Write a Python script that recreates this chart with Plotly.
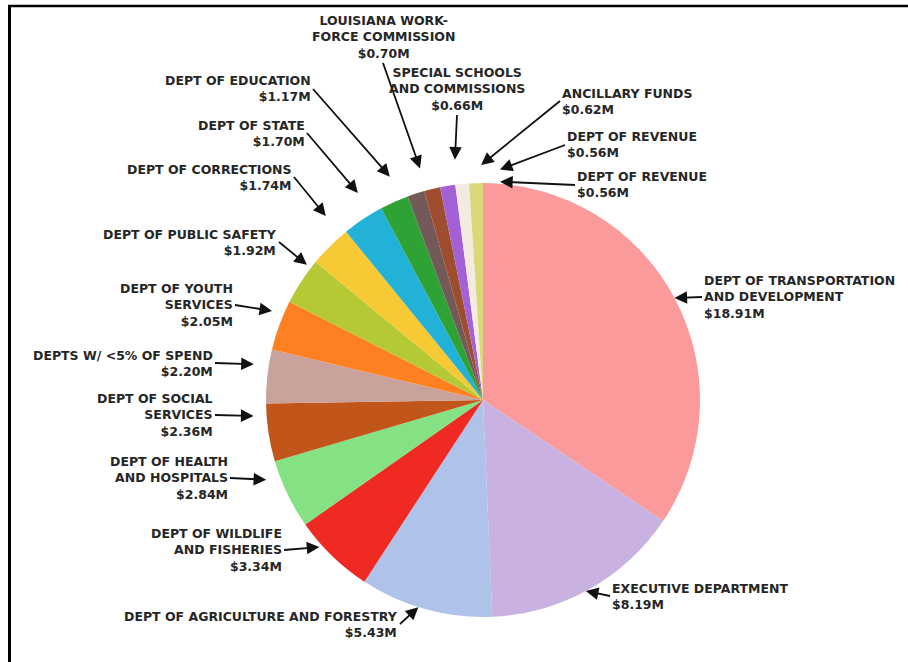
import math
import plotly.graph_objects as go

# ==================== 数据 ====================

departments = [
    "DEPT OF TRANSPORTATION<br>AND DEVELOPMENT",
    "EXECUTIVE DEPARTMENT",
    "DEPT OF AGRICULTURE AND FORESTRY",
    "DEPT OF WILDLIFE<br>AND FISHERIES",
    "DEPT OF HEALTH<br>AND HOSPITALS",
    "DEPT OF SOCIAL<br>SERVICES",
    "DEPTS W/ <5% OF SPEND",
    "DEPT OF YOUTH<br>SERVICES",
    "DEPT OF PUBLIC SAFETY",
    "DEPT OF CORRECTIONS",
    "DEPT OF STATE",
    "DEPT OF EDUCATION",
    "LOUISIANA WORK-<br>FORCE COMMISSION",
    "SPECIAL SCHOOLS<br>AND COMMISSIONS",
    "ANCILLARY FUNDS",
    "DEPT OF REVENUE",
    "DEPT OF REVENUE",
]
spend_m = [18.91, 8.19, 5.43, 3.34, 2.84, 2.36, 2.20, 2.05, 1.92,
           1.74, 1.70, 1.17, 0.70, 0.66, 0.62, 0.56, 0.56]

COLORS = ["#FA9A9A", "#C9B1E2", "#AFC3EA", "#EE2A22", "#84E284", "#C2561A",
          "#C9A39B", "#FF8021", "#B5C934", "#F7C934", "#22B2D8", "#2FA236",
          "#735A58", "#9E4E2E", "#A262D6", "#F3EBDF", "#D9D878"]

# ==================== 版面 ====================

W, H = 908, 662
CX, CY, R = 483, 400, 217          # 饼图中心 / 半径（像素）

# 箭头尾端（像素）+ 文字框相对尾端的锚点
label_tail = [(702, 297), (610, 596), (400, 624), (284, 550), (230, 478),
              (215, 415), (215, 363), (235, 305), (279, 242), (294, 177),
              (307, 133), (313, 89), (383, 63), (457, 115), (560, 101),
              (565, 145), (575, 185)]
label_anchor = [("left", "middle"), ("left", "middle"), ("right", "middle"),
                ("right", "middle"), ("right", "middle"), ("right", "middle"),
                ("right", "middle"), ("right", "middle"), ("right", "middle"),
                ("right", "middle"), ("right", "middle"), ("right", "middle"),
                ("center", "bottom"), ("center", "bottom"), ("left", "middle"),
                ("left", "middle"), ("left", "middle")]
label_align = ["left", "left", "right", "right", "right", "right", "right",
               "right", "right", "right", "right", "right", "center",
               "center", "left", "left", "left"]
# 箭头尖离饼边的距离、角度微调（度）
arrow_gap = [0, 0, 0, 3, 14, 13, 15, 12, 5, 25, 25, 25, 23, 25, 18, 14, 2]
arrow_nudge = [0, 1, 2, 4, 5.5, 4.7, 2.6, 2.7, 4.3, 4.3, 2.4, 1.5, 2.8,
               6.9, 8.9, 9.7, 6.3]

fig = go.Figure(go.Pie(
    labels=[f"{d} ({i})" for i, d in enumerate(departments)],
    values=spend_m,
    sort=False, direction="clockwise", rotation=0,
    marker=dict(colors=COLORS, line=dict(width=0)),
    textinfo="none", hoverinfo="label+value",
    domain=dict(x=[(CX - R) / W, (CX + R) / W],
                y=[1 - (CY + R) / H, 1 - (CY - R) / H]),
    showlegend=False,
))

total = sum(spend_m)
cum = 0.0
annotations = []
for i, v in enumerate(spend_m):
    theta = (cum + v / 2) / total * 2 * math.pi + math.radians(arrow_nudge[i])
    cum += v
    rr = R + arrow_gap[i]
    tip_x = CX + rr * math.sin(theta)
    tip_y = CY - rr * math.cos(theta)
    tx, ty = label_tail[i]
    xa, ya = label_anchor[i]
    annotations.append(dict(
        x=tip_x / W, y=1 - tip_y / H, xref="paper", yref="paper",
        ax=tx - tip_x, ay=ty - tip_y, xanchor=xa, yanchor=ya,
        text=f"<b>{departments[i]}<br>${v:.2f}M</b>", align=label_align[i],
        showarrow=True, arrowhead=2, arrowsize=1.4, arrowwidth=1.8,
        arrowcolor="#111111", standoff=0,
        font=dict(size=12.5, color="#262626", family="DejaVu Sans, Arial, sans-serif"),
    ))

fig.update_layout(
    width=W, height=H,
    margin=dict(l=0, r=0, t=0, b=0),
    paper_bgcolor="#FFFFFF", plot_bgcolor="#FFFFFF",
    font=dict(family="DejaVu Sans, Arial, sans-serif"),
    annotations=annotations,
    shapes=[
        dict(type="line", xref="paper", yref="paper", x0=8 / W, x1=1,
             y0=1 - 6 / H, y1=1 - 6 / H, line=dict(color="#000000", width=2.5)),
        dict(type="line", xref="paper", yref="paper", x0=9.5 / W, x1=9.5 / W,
             y0=0, y1=1 - 6 / H, line=dict(color="#000000", width=3)),
    ],
)

fig.write_html("out.html", config={"displayModeBar": False},
               post_script="document.body.style.margin='0';")
